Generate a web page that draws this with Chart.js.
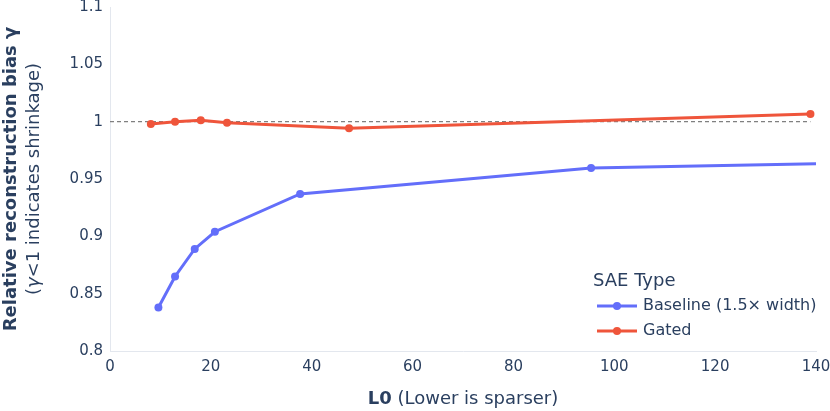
<!DOCTYPE html>
<html>
<head>
<meta charset="utf-8">
<script src="https://cdn.jsdelivr.net/npm/chart.js@4.4.0/dist/chart.umd.min.js"></script>
<style>
html,body{margin:0;padding:0;background:#fff;}
#wrap{width:830px;height:411px;position:relative;}
</style>
</head>
<body>
<div id="wrap"><canvas id="c" width="830" height="411"></canvas></div>
<script>
const baselineL0 = [9.6, 12.9, 16.8, 20.8, 37.7, 95.4, 150];
const baselineBias = [0.838, 0.865, 0.889, 0.904, 0.937, 0.9596, 0.964];
const gatedL0 = [8.1, 12.9, 18.0, 23.2, 47.4, 138.9];
const gatedBias = [0.998, 1.000, 1.0012, 0.999, 0.9942, 1.0067];
const refL0 = [0, 138.9];
const refBias = [1, 1];
const xTicks = [0, 20, 40, 60, 80, 100, 120, 140];
const yTicks = [0.8, 0.85, 0.9, 0.95, 1, 1.05, 1.1];
const seriesNames = ['Baseline (1.5× width)', 'Gated'];
const legendTitle = 'SAE Type';

const BLUE = '#636efa', RED = '#EF553B', TXT = '#2a3f5f';
const FONT = "'DejaVu Sans', Verdana, sans-serif";
const zip = (xs, ys) => xs.map((x, i) => ({x: x, y: ys[i]}));

const overlay = {
  id: 'overlay',
  afterDraw(chart) {
    const ctx = chart.ctx, a = chart.chartArea;
    ctx.save();
    ctx.fillStyle = TXT;
    ctx.textBaseline = 'middle';
    const bold = 'bold 18px ' + FONT, norm = '18px ' + FONT;
    ctx.font = bold; const w1 = ctx.measureText('L0').width;
    ctx.font = norm; const w2 = ctx.measureText(' (Lower is sparser)').width;
    let sx = (a.left + a.right) / 2 - (w1 + w2) / 2;
    ctx.textAlign = 'left';
    ctx.font = bold; ctx.fillText('L0', sx, 399);
    ctx.font = norm; ctx.fillText(' (Lower is sparser)', sx + w1, 399);
    const cy = (a.top + a.bottom) / 2;
    ctx.save();
    ctx.translate(10, cy);
    ctx.rotate(-Math.PI / 2);
    ctx.textAlign = 'center';
    ctx.font = bold; ctx.fillText('Relative reconstruction bias γ', 0, 1);
    ctx.restore();
    ctx.save();
    ctx.translate(33, cy);
    ctx.rotate(-Math.PI / 2);
    ctx.textAlign = 'left';
    const p1 = '(', p2 = 'γ', p3 = '<1 indicates shrinkage)';
    ctx.font = norm; const a1 = ctx.measureText(p1).width;
    ctx.font = 'italic 18px ' + FONT; const a2 = ctx.measureText(p2).width;
    ctx.font = norm; const a3 = ctx.measureText(p3).width;
    let lx = -(a1 + a2 + a3) / 2;
    ctx.font = norm; ctx.fillText(p1, lx, 1);
    ctx.font = 'italic 18px ' + FONT; ctx.fillText(p2, lx + a1, 1);
    ctx.font = norm; ctx.fillText(p3, lx + a1 + a2, 1);
    ctx.restore();
    ctx.textAlign = 'left';
    ctx.font = '18px ' + FONT;
    ctx.fillText(legendTitle, 593, 281);
    const cols = [BLUE, RED], ys = [306, 331];
    ctx.font = '16px ' + FONT;
    for (let i = 0; i < 2; i++) {
      ctx.strokeStyle = cols[i]; ctx.lineWidth = 3;
      ctx.beginPath(); ctx.moveTo(597, ys[i]); ctx.lineTo(637, ys[i]); ctx.stroke();
      ctx.fillStyle = cols[i];
      ctx.beginPath(); ctx.arc(617, ys[i], 4, 0, Math.PI * 2); ctx.fill();
      ctx.fillStyle = TXT;
      ctx.fillText(seriesNames[i], 643, ys[i]);
    }
    ctx.restore();
  }
};

new Chart(document.getElementById('c'), {
  type: 'scatter',
  data: {
    datasets: [
      {label: 'ref', data: zip(refL0, refBias), showLine: true, borderColor: '#808080', borderWidth: 1.2,
       borderDash: [4, 3], pointRadius: 0, pointHoverRadius: 0, order: 3},
      {label: seriesNames[0], data: zip(baselineL0, baselineBias), showLine: true, borderColor: BLUE,
       backgroundColor: BLUE, borderWidth: 3, pointRadius: 4, pointBorderWidth: 0, order: 2},
      {label: seriesNames[1], data: zip(gatedL0, gatedBias), showLine: true, borderColor: RED,
       backgroundColor: RED, borderWidth: 3, pointRadius: 4, pointBorderWidth: 0, order: 1}
    ]
  },
  options: {
    responsive: false,
    animation: false,
    events: [],
    layout: {padding: {left: 0, right: 14, top: 7, bottom: 0}},
    plugins: {legend: {display: false}, tooltip: {enabled: false}},
    scales: {
      x: {
        type: 'linear', min: 0, max: 140,
        afterBuildTicks: s => { s.ticks = xTicks.map(v => ({value: v})); },
        afterFit: s => { s.height = 60; s.paddingLeft = 0; s.paddingRight = 0; },
        grid: {display: false, drawTicks: false, tickLength: 0},
        border: {display: true, color: '#e3e7ee', width: 1},
        ticks: {color: TXT, font: {family: FONT, size: 15}, padding: 7, maxRotation: 0, autoSkip: false,
                callback: v => String(v)}
      },
      y: {
        type: 'linear', min: 0.8, max: 1.1,
        afterBuildTicks: s => { s.ticks = yTicks.map(v => ({value: v})); },
        afterFit: s => { s.width = 110; s.paddingTop = 0; s.paddingBottom = 0; },
        grid: {display: false, drawTicks: false, tickLength: 0},
        border: {display: true, color: '#e3e7ee', width: 1},
        ticks: {color: TXT, font: {family: FONT, size: 15}, padding: 7, autoSkip: false,
                callback: v => String(Math.round(v * 100) / 100)}
      }
    }
  },
  plugins: [overlay]
});
</script>
</body>
</html>
